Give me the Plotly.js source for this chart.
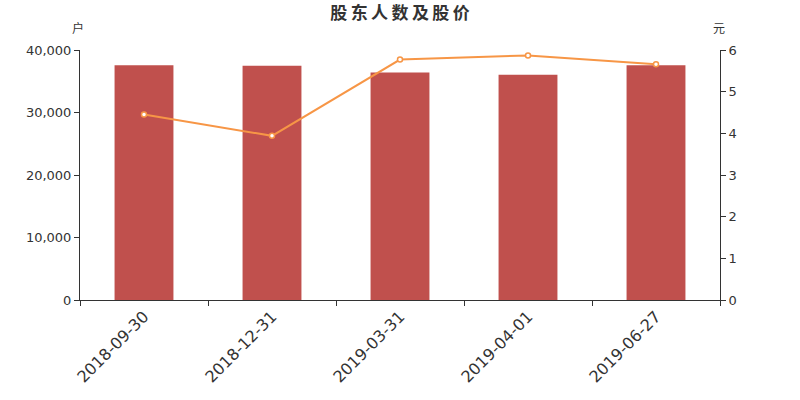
<!DOCTYPE html>
<html>
<head>
<meta charset="utf-8">
<script src="https://cdn.plot.ly/plotly-3.0.1.min.js"></script>
<style>body{margin:0;padding:0;background:#fff;}#chart{width:800px;height:400px;}</style>
</head>
<body>
<div id="chart"></div>
<script>
const categories = ["2018-09-30", "2018-12-31", "2019-03-31", "2019-04-01", "2019-06-27"];
const holders = [37550, 37490, 36400, 36050, 37580];
const prices = [4.45, 3.94, 5.77, 5.87, 5.66];
const leftTicks = [0, 10000, 20000, 30000, 40000];
const leftTickText = ["0", "10,000", "20,000", "30,000", "40,000"];
const rightTicks = [0, 1, 2, 3, 4, 5, 6];
const titleText = "股东人数及股价";

const font = "DejaVu Sans, sans-serif";
const cjk = "Noto Sans CJK SC, sans-serif";
const axisColor = "#333333";

const traces = [
  {
    type: "bar", x: categories, y: holders, name: "股东人数",
    marker: {color: "#c0504d"}, yaxis: "y"
  },
  {
    type: "scatter", mode: "lines+markers", x: categories, y: prices, name: "股价",
    line: {color: "#f79646", width: 2},
    marker: {size: 5, color: "#ffffff", line: {color: "#f79646", width: 1.5}},
    yaxis: "y2"
  }
];

const layout = {
  width: 800, height: 400,
  margin: {l: 80, r: 80, t: 50, b: 100},
  paper_bgcolor: "#ffffff", plot_bgcolor: "#ffffff",
  showlegend: false,
  bargap: 0.54,
  title: {text: "<b>" + titleText.split("").join("\u2009") + "</b>",
          xref: "paper", x: 0.5, xanchor: "center",
          yref: "container", y: 0.9675, yanchor: "middle",
          font: {family: cjk, size: 17, color: "#333333"}},
  font: {family: font, size: 13, color: axisColor},
  xaxis: {
    type: "category", tickangle: -45, tickson: "boundaries",
    ticks: "outside", ticklen: 5, tickcolor: axisColor,
    showline: true, linecolor: axisColor, linewidth: 1, showgrid: false,
    tickfont: {family: font, size: 16, color: axisColor}, zeroline: false
  },
  yaxis: {
    range: [0, 40000], tickvals: leftTicks, ticktext: leftTickText,
    ticks: "outside", ticklen: 5, tickcolor: axisColor,
    showline: true, linecolor: axisColor, linewidth: 1, showgrid: false, zeroline: false,
    tickfont: {family: font, size: 13, color: axisColor}
  },
  yaxis2: {
    range: [0, 6], tickvals: rightTicks, overlaying: "y", side: "right",
    ticks: "outside", ticklen: 5, tickcolor: axisColor,
    showline: true, linecolor: axisColor, linewidth: 1, showgrid: false, zeroline: false,
    tickfont: {family: font, size: 13, color: axisColor}
  },
  annotations: [
    {text: "户", xref: "paper", yref: "paper", x: 0, y: 1.088, xanchor: "center", yanchor: "middle",
     xshift: -2, showarrow: false, font: {family: cjk, size: 12, color: axisColor}},
    {text: "元", xref: "paper", yref: "paper", x: 1, y: 1.088, xanchor: "center", yanchor: "middle",
     xshift: -1, showarrow: false, font: {family: cjk, size: 12, color: axisColor}}
  ]
};

Plotly.newPlot("chart", traces, layout, {displayModeBar: false, staticPlot: true});
</script>
</body>
</html>
